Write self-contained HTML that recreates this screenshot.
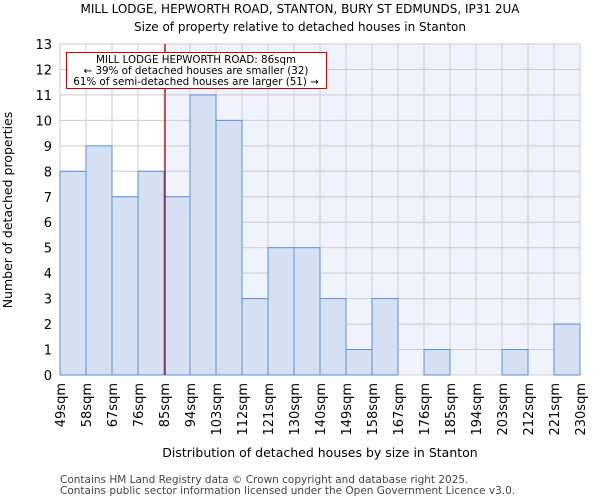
<!DOCTYPE html>
<html><head><meta charset="utf-8"><style>
body{margin:0;background:#fff;font-family:"DejaVu Sans","Liberation Sans",sans-serif;}
</style></head><body>
<svg id="chart" width="600" height="500" xmlns="http://www.w3.org/2000/svg" font-family="DejaVu Sans, Liberation Sans, sans-serif">
<text x="300" y="13" text-anchor="middle" font-size="12">MILL LODGE, HEPWORTH ROAD, STANTON, BURY ST EDMUNDS, IP31 2UA</text>
<text x="300" y="31" text-anchor="middle" font-size="12">Size of property relative to detached houses in Stanton</text>
<g id="plot"></g>
<text x="320" y="457" text-anchor="middle" font-size="12.5">Distribution of detached houses by size in Stanton</text>
<text transform="translate(12,210) rotate(-90)" text-anchor="middle" font-size="12.5">Number of detached properties</text>
<text x="60" y="483" font-size="10.5" fill="#444">Contains HM Land Registry data © Crown copyright and database right 2025.</text>
<text x="60" y="494" font-size="10.5" fill="#444">Contains public sector information licensed under the Open Government Licence v3.0.</text>
</svg>
<script>
const edges=["49sqm","58sqm","67sqm","76sqm","85sqm","94sqm","103sqm","112sqm","121sqm","130sqm","140sqm","149sqm","158sqm","167sqm","176sqm","185sqm","194sqm","203sqm","212sqm","221sqm","230sqm"];
const counts=[8,9,7,8,7,11,10,3,5,5,3,1,3,0,1,0,0,1,0,2];
const yTicks=[0,1,2,3,4,5,6,7,8,9,10,11,12,13];
const marker=4.04; // bin position of 86sqm
const NS="http://www.w3.org/2000/svg";
const g=document.getElementById('plot');
const L=60,R=580,T=44,B=375,yMax=13;
const bw=(R-L)/counts.length;
const x=i=>L+i*bw;
const y=v=>B-(v/yMax)*(B-T);
function mk(t,a){const e=document.createElementNS(NS,t);for(const k in a)e.setAttribute(k,a[k]);g.appendChild(e);return e;}
let e=mk('rect',{x:L,y:T,width:R-L,height:B-T,fill:'#fff'});


e=mk('rect',{x:x(marker),y:T,width:R-x(marker),height:B-T,fill:'#f0f3fb'});


yTicks.forEach(t=>{
 e=mk('line',{x1:L,x2:R,y1:y(t),y2:y(t),stroke:'#cccccc','stroke-width':1});
 
 
 e=mk('text',{x:L-8,y:y(t)+5,'text-anchor':'end','font-size':13});
 e.textContent=t;
 
 
});
edges.forEach((s,i)=>{
 e=mk('line',{x1:x(i),x2:x(i),y1:T,y2:B,stroke:'#cccccc','stroke-width':1});
 
 
});
counts.forEach((c,i)=>{
 if(c<=0)return;
 e=mk('rect',{x:x(i),y:y(c),width:bw,height:B-y(c),fill:'#d6e0f3',stroke:'#5b8fd8','stroke-width':1});
 
 
});
edges.forEach((s,i)=>{
 e=mk('text',{transform:`translate(${x(i)+5},${B+8}) rotate(-90)`,'text-anchor':'end','font-size':13});
 e.textContent=s;
 
 
});
e=mk('line',{x1:x(marker),x2:x(marker),y1:T,y2:B,stroke:'#990000','stroke-width':1.2});


e=mk('rect',{x:66.5,y:52.5,width:260,height:36,fill:'#fff',stroke:'#cc0000','stroke-width':1});


["MILL LODGE HEPWORTH ROAD: 86sqm","← 39% of detached houses are smaller (32)","61% of semi-detached houses are larger (51) →"].forEach((s,i)=>{
 e=mk('text',{x:196,y:63+i*11,'text-anchor':'middle','font-size':10.3});
 e.textContent=s;
 
 
});
</script>
</body></html>
